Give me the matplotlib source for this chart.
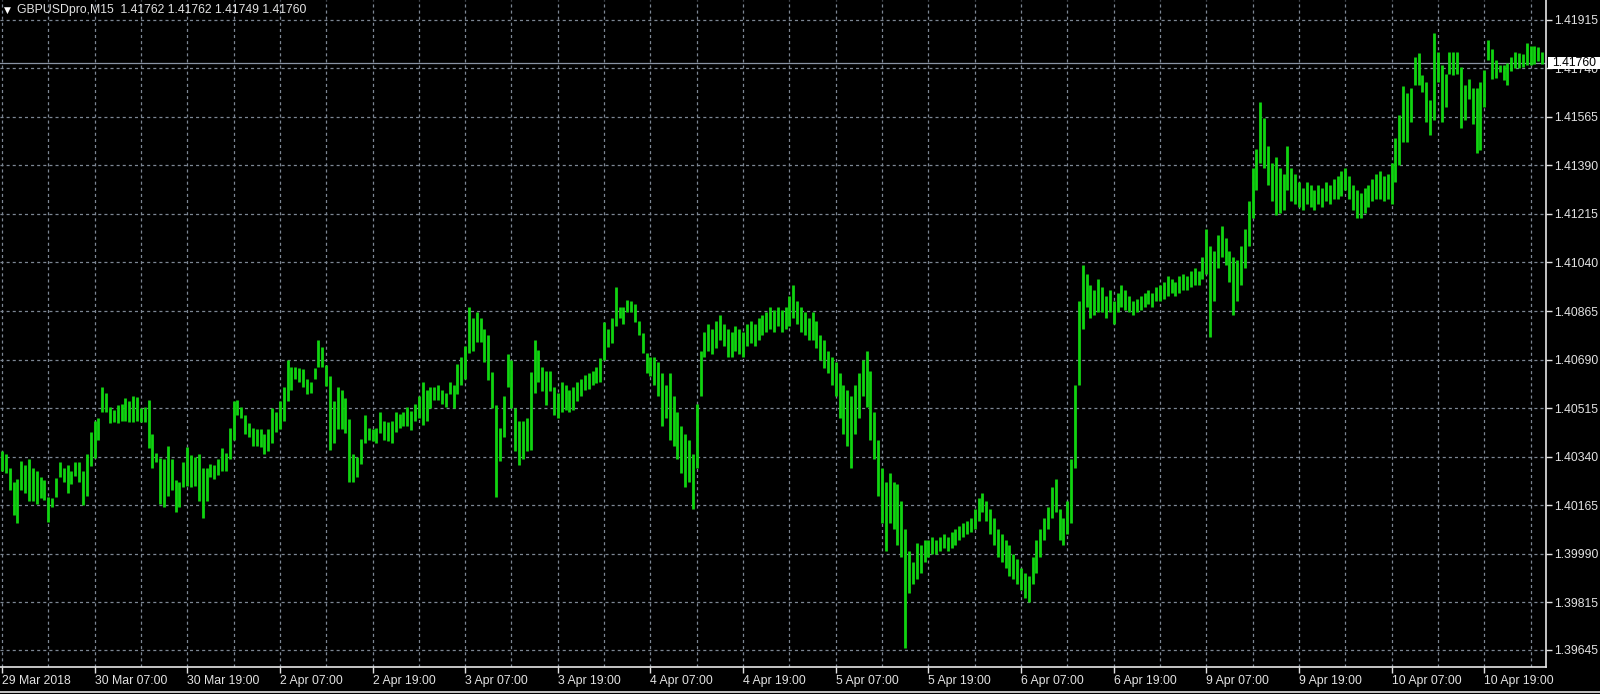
import numpy as np
import matplotlib.pyplot as plt
from matplotlib.lines import Line2D
from matplotlib.patches import Rectangle

# --- DATA (30-minute samples of the M15 chart, prices as points above BASE) ---
BASE = 1.39
POINT = 0.00001

HIGHS = [
    1360, 1350, 1300, 1250, 1260, 1325, 1310, 1330, 1300, 1290, 1265, 1255, 1195, 1190, 1262, 1320, 1300, 1310, 1290, 1320,
    1320, 1290, 1350, 1430, 1470, 1480, 1590, 1570, 1520, 1510, 1525, 1530, 1550, 1540, 1560, 1555, 1515, 1520, 1545, 1420,
    1355, 1335, 1330, 1380, 1330, 1255, 1250, 1320, 1375, 1345, 1340, 1350, 1300, 1300, 1315, 1310, 1330, 1370, 1355, 1445,
    1540, 1545, 1520, 1490, 1460, 1445, 1440, 1440, 1420, 1440, 1515, 1500, 1540, 1590, 1690, 1665, 1665, 1660, 1655, 1620,
    1610, 1660, 1760, 1735, 1670, 1630, 1540, 1590, 1580, 1550, 1475, 1350, 1340, 1405, 1490, 1445, 1440, 1445, 1500, 1470,
    1465, 1470, 1500, 1495, 1500, 1520, 1505, 1530, 1560, 1610, 1580, 1590, 1590, 1600, 1580, 1570, 1610, 1600, 1675, 1700,
    1740, 1880, 1840, 1860, 1840, 1800, 1780, 1645, 1525, 1445, 1560, 1710, 1690, 1515, 1470, 1470, 1480, 1645, 1760, 1725,
    1665, 1650, 1650, 1590, 1570, 1610, 1600, 1580, 1590, 1610, 1620, 1635, 1640, 1650, 1665, 1695, 1825, 1800, 1840, 1950,
    1880, 1880, 1905, 1900, 1890, 1830, 1785, 1715, 1700, 1700, 1680, 1640, 1600, 1640, 1560, 1500, 1450, 1420, 1400, 1350,
    1530, 1720, 1790, 1820, 1800, 1830, 1850, 1820, 1800, 1790, 1810, 1800, 1790, 1820, 1830, 1820, 1840, 1850, 1860, 1880,
    1870, 1880, 1870, 1880, 1920, 1960, 1900, 1880, 1860, 1840, 1860, 1830, 1780, 1760, 1720, 1700, 1680, 1640, 1600, 1580,
    1560, 1600, 1640, 1690, 1720, 1650, 1500, 1400, 1300, 1250, 1280, 1250, 1240, 1180, 1080, 1000, 960, 1030, 1020, 1040,
    1040, 1050, 1040, 1050, 1060, 1050, 1070, 1080, 1090, 1100, 1110, 1120, 1150, 1190, 1210, 1180, 1150, 1120, 1080, 1060,
    1040, 1020, 990, 970, 940, 920, 910, 980, 1040, 1080, 1120, 1160, 1230, 1260, 1150, 1120, 1180, 1330, 1600, 1900,
    2030, 2000, 1960, 1940, 1980, 1950, 1920, 1940, 1900, 1930, 1960, 1940, 1920, 1900, 1910, 1920, 1930, 1940, 1930, 1950,
    1960, 1970, 1990, 1980, 1970, 1990, 2000, 1990, 2010, 2020, 2010, 2060, 2160, 2100, 2080, 2140, 2170, 2130, 2080, 2060,
    2050, 2100, 2160, 2260, 2380, 2450, 2620, 2560, 2460, 2400, 2420, 2380, 2360, 2460, 2380, 2360, 2330, 2310, 2330, 2320,
    2300, 2320, 2310, 2330, 2320, 2340, 2350, 2370, 2380, 2350, 2320, 2300, 2290, 2310, 2320, 2340, 2360, 2370, 2350, 2360,
    2400, 2490, 2570, 2675, 2650, 2670, 2780, 2795, 2715, 2690, 2625, 2868, 2800, 2750, 2720, 2800, 2800, 2800, 2745, 2680,
    2700, 2670, 2670, 2690, 2735, 2842, 2810, 2770, 2750, 2752, 2760, 2780, 2800, 2795, 2790, 2830, 2820, 2820, 2815, 2800,
]

LOWS = [
    1290, 1280, 1220, 1130, 1100, 1220, 1210, 1180, 1180, 1170, 1190, 1185, 1105, 1160, 1195, 1265, 1250, 1210, 1240, 1270,
    1250, 1165, 1200, 1305, 1335, 1400, 1500, 1500, 1460, 1465, 1460, 1470, 1470, 1465, 1465, 1470, 1465, 1465, 1370, 1300,
    1320, 1170, 1160, 1200, 1220, 1140, 1160, 1230, 1235, 1230, 1235, 1180, 1120, 1180, 1265, 1260, 1275, 1290, 1290, 1330,
    1400, 1490, 1480, 1420, 1410, 1380, 1380, 1375, 1350, 1360, 1390, 1430, 1440, 1470, 1540, 1580, 1620, 1610, 1590, 1565,
    1570, 1620, 1665, 1665, 1595, 1365, 1390, 1440, 1440, 1425, 1250, 1250, 1265, 1315, 1390, 1400, 1395, 1390, 1425, 1400,
    1395, 1390, 1430, 1445, 1450, 1450, 1435, 1470, 1480, 1455, 1470, 1515, 1545, 1545, 1530, 1520, 1565, 1515, 1565, 1600,
    1620, 1715, 1720, 1755, 1755, 1680, 1615, 1515, 1195, 1325, 1410, 1590, 1515, 1360, 1310, 1330, 1360, 1365, 1570, 1610,
    1575, 1525, 1575, 1490, 1480, 1500, 1510, 1500, 1510, 1540, 1560, 1580, 1585, 1600, 1605, 1610, 1690, 1735, 1750, 1810,
    1840, 1820, 1860, 1860, 1825, 1780, 1715, 1640, 1630, 1600, 1560, 1450, 1480, 1400, 1380, 1330, 1280, 1230, 1250, 1150,
    1300, 1560, 1700, 1720, 1710, 1730, 1760, 1740, 1700, 1700, 1720, 1710, 1700, 1740, 1750, 1740, 1760, 1780, 1790, 1800,
    1790, 1810, 1790, 1800, 1810, 1840, 1820, 1790, 1780, 1760, 1760, 1730, 1690, 1660, 1640, 1600, 1560, 1480, 1420, 1380,
    1300, 1420, 1480, 1560, 1520, 1400, 1330, 1200, 1100, 1000, 1100, 1080, 1020, 980, 650, 850, 880, 900, 920, 960,
    980, 990, 990, 1000, 1010, 1000, 1010, 1020, 1040, 1050, 1060, 1070, 1080, 1110, 1140, 1110, 1060, 1020, 980, 960,
    940, 910, 900, 880, 860, 830, 815, 880, 920, 980, 1040, 1080, 1120, 1140, 1040, 1020, 1060, 1100, 1300, 1600,
    1800, 1880, 1840, 1850, 1860, 1860, 1840, 1860, 1820, 1860, 1880, 1870, 1860, 1850, 1860, 1870, 1880, 1890, 1880, 1900,
    1900, 1910, 1920, 1930, 1920, 1930, 1940, 1940, 1950, 1960, 1960, 1980, 2000, 1770, 1900, 2020, 2060, 2030, 1970, 1850,
    1900, 1960, 2020, 2100, 2200, 2300, 2400, 2380, 2320, 2260, 2210, 2220, 2230, 2300, 2260, 2250, 2240, 2230, 2250, 2240,
    2230, 2250, 2240, 2260, 2250, 2270, 2270, 2280, 2300, 2270, 2230, 2200, 2200, 2220, 2240, 2260, 2270, 2270, 2260, 2270,
    2250, 2330, 2390, 2475, 2475, 2545, 2680, 2680, 2655, 2545, 2500, 2555, 2690, 2545, 2600, 2720, 2715, 2720, 2525, 2555,
    2630, 2540, 2435, 2445, 2600, 2770, 2700, 2705, 2725, 2698, 2680, 2730, 2740, 2740, 2745, 2752, 2752, 2755, 2765, 2755,
]

TIME_LABELS = ["29 Mar 2018", "30 Mar 07:00", "30 Mar 19:00", "2 Apr 07:00", "2 Apr 19:00",
               "3 Apr 07:00", "3 Apr 19:00", "4 Apr 07:00", "4 Apr 19:00", "5 Apr 07:00",
               "5 Apr 19:00", "6 Apr 07:00", "6 Apr 19:00", "9 Apr 07:00", "9 Apr 19:00",
               "10 Apr 07:00", "10 Apr 19:00"]
PRICE_TICKS = [1.39645, 1.39815, 1.39990, 1.40165, 1.40340, 1.40515, 1.40690,
               1.40865, 1.41040, 1.41215, 1.41390, 1.41565, 1.41740, 1.41915]
LAST_PRICE = 1.41760
HEADER = "GBPUSDpro,M15  1.41762 1.41762 1.41749 1.41760"

# --- STYLE ---
W, H = 1600, 694
FG = "#e2e2e2"
GRID = "#7d8794"
BAR = "#10d410"
FONT = ["Liberation Sans", "DejaVu Sans"]
plt.rcParams["font.family"] = FONT
plt.rcParams["lines.scale_dashes"] = False

highs = BASE + np.array(HIGHS) * POINT
lows = BASE + np.array(LOWS) * POINT
x = np.arange(len(highs))

fig = plt.figure(figsize=(W / 100, H / 100), dpi=100, facecolor="black")
ax = fig.add_axes([0, 1 - 667 / H, 1546 / W, 667 / H], facecolor="black")

ax.vlines(x, lows, highs, color=BAR, linewidth=2.0, zorder=3)
ax.axhline(LAST_PRICE, color="#8a94a4", linewidth=0.9, zorder=2)

ax.set_xlim(-0.5, 400)
ax.set_ylim(1.39582, 1.41986)

# ticks / grid
ax.yaxis.tick_right()
ax.set_yticks(PRICE_TICKS)
ax.set_yticklabels([f"{p:.5f}" for p in PRICE_TICKS])
ax.set_xticks(np.arange(len(TIME_LABELS)) * 24)
ax.set_xticklabels(TIME_LABELS)
for lbl in ax.get_xticklabels():
    lbl.set_horizontalalignment("left")
ax.set_xticks(np.arange(12, 400, 24), minor=True)
ax.tick_params(axis="x", which="major", colors=FG, labelsize=8.8, length=4, pad=2, width=1)
ax.tick_params(axis="x", which="minor", length=0)
ax.tick_params(axis="y", colors=FG, labelsize=8.8, length=4, pad=2, width=1)

dash = (0, (2.2, 2.2))
ax.grid(True, which="both", axis="x", color=GRID, linewidth=0.9, linestyle=dash, zorder=1)
ax.grid(True, which="major", axis="y", color=GRID, linewidth=0.9, linestyle=dash, zorder=1)
for side in ["left", "top"]:
    ax.spines[side].set_visible(False)
for side in ["right", "bottom"]:
    ax.spines[side].set_color("#e6e6e6")
    ax.spines[side].set_linewidth(1.2)

# last price tag on the right axis (covers most of the 1.41740 label, as in MT4)
fig.patches.append(Rectangle((1548 / W, 1 - 68.5 / H), 52 / W, 12 / H,
                             transform=fig.transFigure, facecolor="white", edgecolor="none", zorder=5))
fig.text(1552 / W, 1 - 62.5 / H, f"{LAST_PRICE:.5f}", color="black", fontsize=8.8,
         va="center", ha="left", zorder=6)

# header
fig.text(4 / W, 1 - 10 / H, "\u25BC", color="white", fontsize=6.5, va="center", ha="left",
         family=["DejaVu Sans"])
fig.text(17 / W, 1 - 10 / H, HEADER, color=FG, fontsize=8.8, va="center", ha="left")

# bottom bar line
fig.add_artist(Line2D([0, 1], [1 - 692 / H, 1 - 692 / H], transform=fig.transFigure,
                      color="#e6e6e6", linewidth=1.2))

fig.savefig("out.png", dpi=100, facecolor="black")
